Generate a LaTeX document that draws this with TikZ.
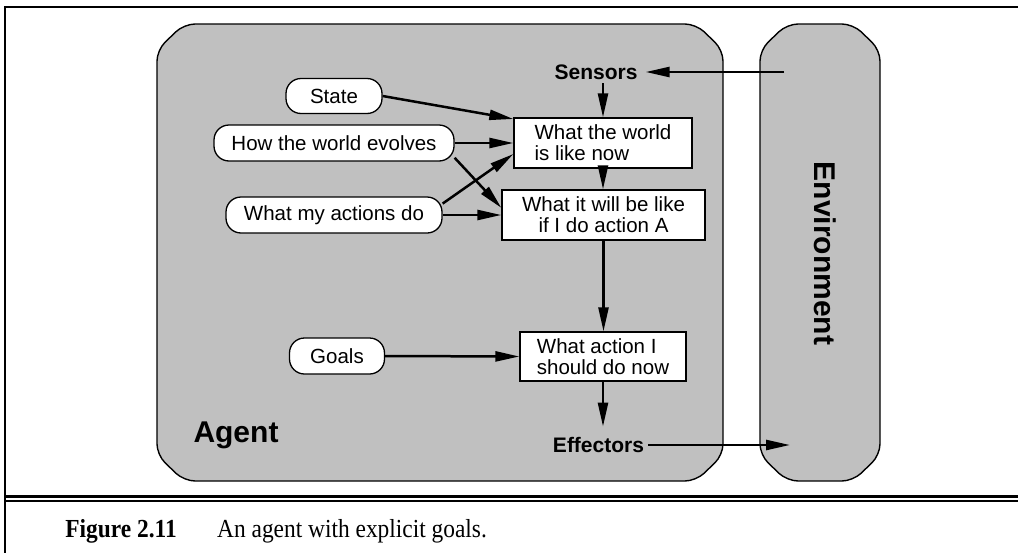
\documentclass[tikz,border=0pt]{standalone}
\usepackage{fontspec}
\setmainfont{Liberation Sans}
\newfontfamily\capfont[FakeStretch=0.9]{Liberation Serif}
\usetikzlibrary{arrows.meta,calc}
\definecolor{panelgray}{RGB}{192,192,192}

\begin{document}
\begin{tikzpicture}[x=1pt,y=-1pt,
  panel/.style={fill=panelgray, draw=black, line width=1.4pt, rounded corners=11pt},
  pill/.style={draw=black, fill=white, line width=1.3pt, rounded corners=15pt,
    inner sep=0pt, font=\fontsize{20.5}{21}\selectfont},
  stepbox/.style={draw=black, fill=white, line width=1.3pt, inner sep=0pt,
    font=\fontsize{20.5}{21}\selectfont},
  port/.style={font=\fontsize{21}{24}\selectfont\bfseries, inner ysep=0pt},
  bigtitle/.style={font=\fontsize{30}{34}\selectfont\bfseries, inner sep=0pt},
  flow/.style={line width=2.5pt, -{Triangle[length=24pt,width=10pt]}},
  rule/.style={line width=2pt, line cap=rect},
  caption/.style={inner sep=0pt, font=\capfont\fontsize{26}{30}\selectfont}
]
% canvas
\fill[white] (0,0) rectangle (1018,552);
\useasboundingbox (0,0) rectangle (1018,552);

% frame and caption rules
\draw[rule] (5,552) -- (5,7) -- (1018,7);
\draw[line width=2.4pt] (5,496.5) -- (1018,496.5);
\draw[line width=1.6pt] (5,500.8) -- (1018,500.8);

% agent and environment panels
\draw[panel] (184,24) -- (696,24) -- (723,50) -- (723,455) -- (696,481)
  -- (184,481) -- (157,455) -- (157,50) -- cycle;
\draw[panel] (787,24) -- (853,24) -- (880,50) -- (880,455) -- (853,481)
  -- (787,481) -- (760,455) -- (760,50) -- cycle;

\node[bigtitle] (agent) at (236,435) {Agent};
\node[bigtitle, rotate=-90] (env) at (825,253.5) {Environment};

% knowledge sources
\node[pill, minimum width=96pt, minimum height=35pt] (state) at (334,96) {State};
\node[pill, minimum width=240pt, minimum height=36pt] (evolves) at (334,143) {How the world evolves};
\node[pill, minimum width=216pt, minimum height=36pt] (actions) at (334,215) {What my actions do};
\node[pill, minimum width=95pt, minimum height=36pt] (goals) at (337,356) {Goals};

% internal reasoning steps
\node[stepbox, minimum width=178pt, minimum height=50pt, align=left] (now) at (603,143)
  {What the world\\is like now};
\node[stepbox, minimum width=203pt, minimum height=50pt, align=center] (future) at (603.5,215)
  {What it will be like\\if I do action A};
\node[stepbox, minimum width=166pt, minimum height=49pt, align=left] (choice) at (603,356.5)
  {What action I\\should do now};

% sensors and effectors
\node[port, inner xsep=8pt, inner ysep=3.5pt] (sensors) at (596,72) {Sensors};
\node[port, inner xsep=4pt, inner ysep=10.5pt] (effectors) at (598.5,445) {Effectors};
\coordinate (percept) at (784,72);
\coordinate (act) at (790,445);

% connectors
\draw[flow] (percept) -- (sensors.east);
\draw[flow] (sensors.south -| now.north) -- (now.north);
\draw[flow] (state.east) -- (now.165);
\draw[flow] (evolves.east) -- (now.west);
\draw[flow] (evolves.-7) -- (future.176);
\draw[flow] (actions.6.5) -- (now.187);
\draw[flow] (actions.east) -- (future.west);
\draw[flow] (now.south) -- (now.south |- future.north);
\draw[flow] (future.south) -- (future.south |- choice.north);
\draw[flow] (goals.east) -- (choice.west);
\draw[flow] (choice.south) -- (choice.south |- effectors.north);
\draw[flow] (effectors.east) -- (act);

% caption
\node[caption, anchor=base east] (figlabel) at (177,537) {\bfseries Figure 2.11};
\node[caption, anchor=base west] (figtext) at (217,537) {An agent with explicit goals.};
\end{tikzpicture}
\end{document}
